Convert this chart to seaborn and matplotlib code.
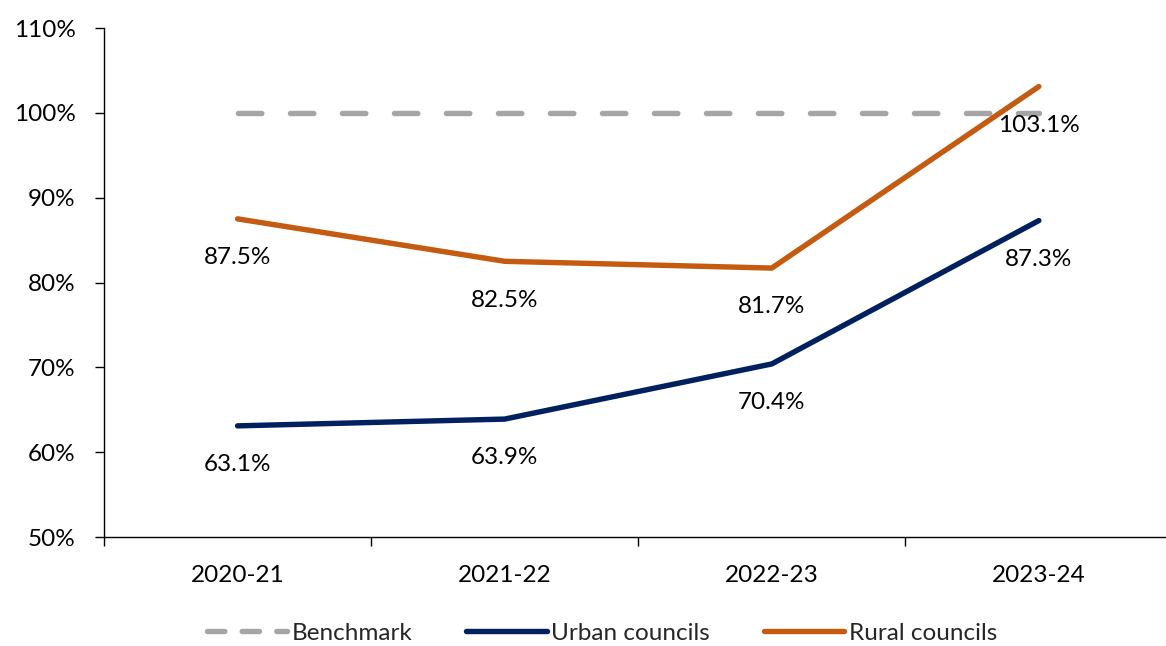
import matplotlib
matplotlib.use("Agg")
import matplotlib.pyplot as plt
from matplotlib.ticker import FixedLocator, PercentFormatter
from matplotlib.lines import Line2D
import seaborn as sns
import pandas as pd

years = ["2020-21", "2021-22", "2022-23", "2023-24"]
benchmark = [100.0, 100.0, 100.0, 100.0]
urban = [63.1, 63.9, 70.4, 87.3]
rural = [87.5, 82.5, 81.7, 103.1]

series_names = ["Benchmark", "Urban councils", "Rural councils"]
series_colors = {"Benchmark": "#A5A5A5", "Urban councils": "#002060", "Rural councils": "#C55A11"}

sns.set_theme(style="white")
plt.rcParams["font.family"] = ["Lato", "DejaVu Sans"]
FS = 17.5
LW = 3.9

rows = []
for name, vals in zip(series_names, [benchmark, urban, rural]):
    for i, v in enumerate(vals):
        rows.append({"pos": i, "year": years[i], "value": v, "series": name})
df = pd.DataFrame(rows)

fig = plt.figure(figsize=(11.66, 6.46), dpi=100)
ax = fig.add_axes([104 / 1166, 1 - 537 / 646, 1 - 104 / 1166, (537 - 28) / 646])

sns.lineplot(
    data=df, x="pos", y="value", hue="series", style="series",
    hue_order=series_names, style_order=series_names,
    palette=series_colors,
    dashes={"Benchmark": (4.3, 5.3), "Urban councils": "", "Rural councils": ""},
    linewidth=LW, legend=False, ax=ax,
)
for ln in ax.get_lines():
    ln.set_solid_capstyle("round")
    ln.set_dash_capstyle("round")

# value labels beneath the council points
for vals in (urban, rural):
    for i, v in enumerate(vals):
        ax.annotate(f"{v:.1f}%", xy=(i, v), xytext=(0, -28), textcoords="offset points",
                    ha="center", va="center", fontsize=FS, color="black")

ax.set_xlim(-0.5, 3.476)
ax.set_ylim(50, 110)
ax.yaxis.set_major_locator(FixedLocator([50, 60, 70, 80, 90, 100, 110]))
ax.yaxis.set_major_formatter(PercentFormatter(decimals=0))
ax.set_xticks(range(len(years)))
ax.set_xticklabels(years)
ax.xaxis.set_minor_locator(FixedLocator([-0.5, 0.5, 1.5, 2.5]))
ax.tick_params(axis="x", which="major", length=0, pad=20, labelsize=FS, colors="black")
ax.tick_params(axis="x", which="minor", length=6.5, width=1, color="black", direction="out", bottom=True)
ax.tick_params(axis="y", which="major", length=6.5, width=1, color="black", direction="out",
               left=True, pad=14, labelsize=FS, labelcolor="black")
ax.set_xlabel("")
ax.set_ylabel("")

for side in ("top", "right"):
    ax.spines[side].set_visible(False)
for side in ("left", "bottom"):
    ax.spines[side].set_color("black")
    ax.spines[side].set_linewidth(1.0)
ax.grid(False)

handles = [
    Line2D([], [], color=series_colors["Benchmark"], lw=LW, dashes=(3.2, 3.2),
           dash_capstyle="round"),
    Line2D([], [], color=series_colors["Urban councils"], lw=LW, solid_capstyle="round"),
    Line2D([], [], color=series_colors["Rural councils"], lw=LW, solid_capstyle="round"),
]
fig.legend(handles, series_names, loc="center", bbox_to_anchor=(602 / 1166, 1 - 633 / 646),
           ncol=3, frameon=False, fontsize=FS, handlelength=3.3, handletextpad=0.2,
           columnspacing=2.2, borderaxespad=0)

fig.savefig("out.png", dpi=100)
